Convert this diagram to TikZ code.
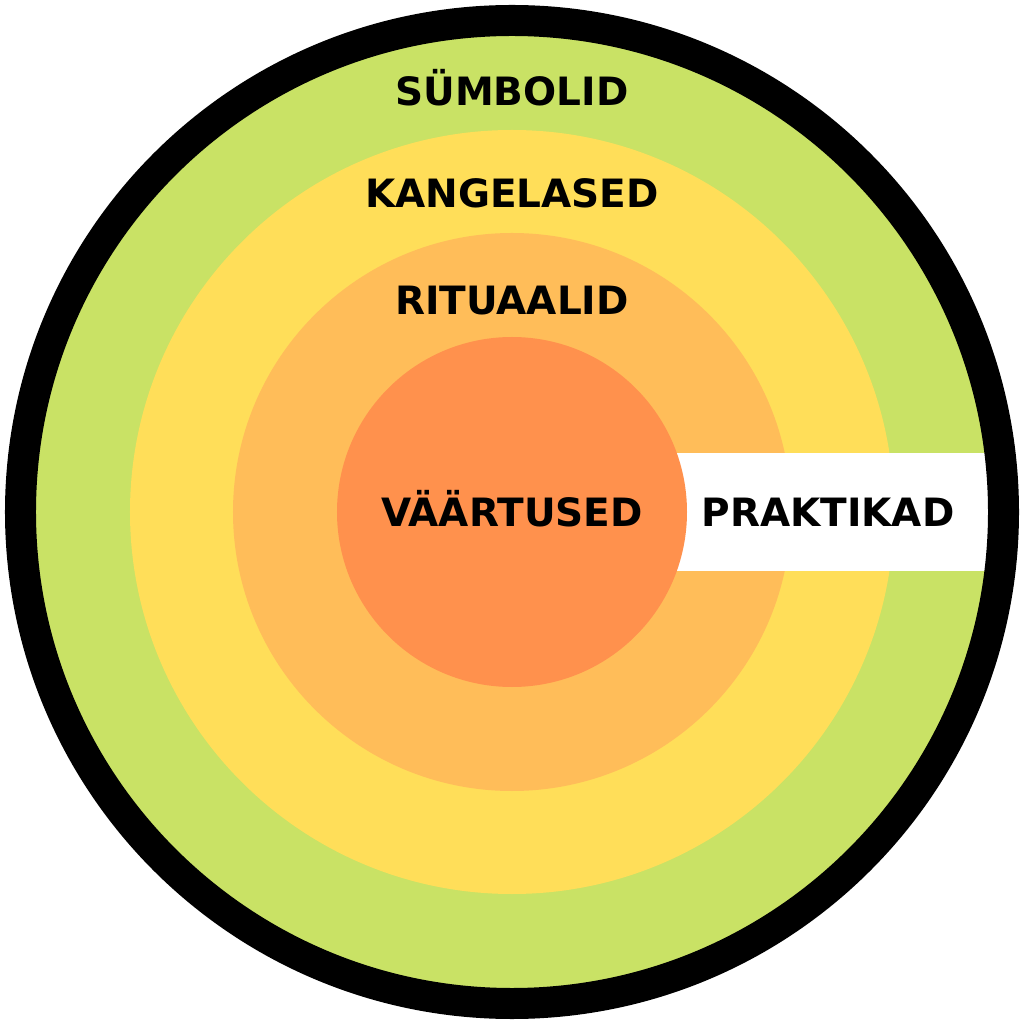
\documentclass[tikz,border=0pt]{standalone}
\usepackage{fontspec}
\setmainfont{DejaVu Sans}
\usepackage{tikz}
\usepackage[table]{xcolor}

\definecolor{symbolgreen}{HTML}{C9E265}
\definecolor{heroyellow}{HTML}{FFDE59}
\definecolor{ritualorange}{HTML}{FFBD59}
\definecolor{valueorange}{HTML}{FF914D}

\begin{document}
\begin{tikzpicture}[x=1pt,y=1pt,font=\fontsize{39}{39}\selectfont\bfseries]
			\useasboundingbox (-512,-512) rectangle (512,512);

			\fill[symbolgreen]  (0,0) circle (480);
			\fill[heroyellow]   (0,0) circle (382);
			\fill[ritualorange] (0,0) circle (279);

			\fill[white] (150,-59) rectangle (490,59);

			\fill[valueorange]  (0,0) circle (175);

			\draw[line width=31pt] (0,0) circle (491.5);

			\node[anchor=base] (symbols) at (0, 406) {SÜMBOLID};
			\node[anchor=base] (heroes)  at (0, 304) {KANGELASED};
			\node[anchor=base] (rituals) at (0, 197) {RITUAALID};
			\node[anchor=base] (values)  at (0, -15) {VÄÄRTUSED};
			\node[anchor=base] (practices) at (316, -15) {PRAKTIKAD};
		\end{tikzpicture}
\end{document}
